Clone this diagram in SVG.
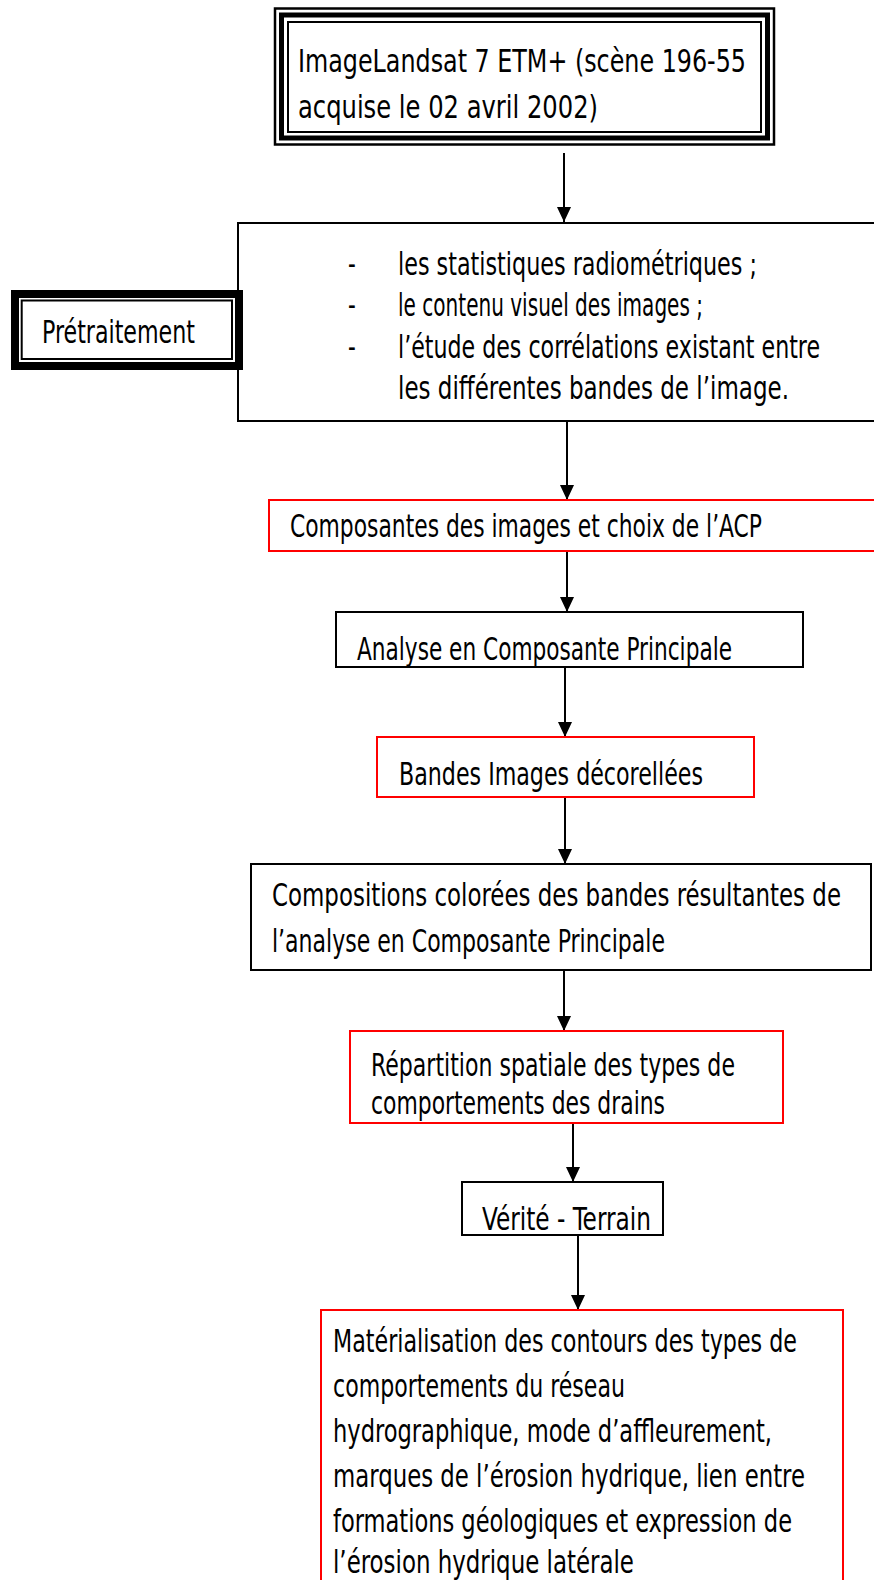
<svg xmlns="http://www.w3.org/2000/svg" width="874" height="1580" viewBox="0 0 874 1580">
<defs>
<style>
text{font-family:"Liberation Sans Narrow","DejaVu Sans Condensed","Liberation Sans",sans-serif;font-size:32px;fill:#000}
.bk{fill:#fff;stroke:#000;stroke-width:2}
.rd{fill:#fff;stroke:#ff0000;stroke-width:2}
.cn{stroke:#000;stroke-width:2;fill:none;marker-end:url(#ah)}
</style>
<marker id="ah" markerWidth="15" markerHeight="14" refX="15" refY="7" orient="auto" markerUnits="userSpaceOnUse">
<path d="M0,0 L15,7 L0,14 z" fill="#000"/>
</marker>
</defs>
<rect width="874" height="1580" fill="#fff"/>

<g id="connectors">
<line class="cn" x1="564" y1="153" x2="564" y2="222"/>
<line class="cn" x1="567" y1="422" x2="567" y2="500"/>
<line class="cn" x1="567" y1="551" x2="567" y2="612"/>
<line class="cn" x1="565" y1="667" x2="565" y2="737"/>
<line class="cn" x1="565" y1="797" x2="565" y2="864"/>
<line class="cn" x1="564" y1="970" x2="564" y2="1031"/>
<line class="cn" x1="573" y1="1123" x2="573" y2="1182"/>
<line class="cn" x1="578" y1="1235" x2="578" y2="1310"/>
</g>

<g id="n-landsat">
<rect x="275" y="8.5" width="499" height="136" fill="#fff" stroke="#000" stroke-width="2.5"/>
<rect x="281.5" y="15" width="486" height="123" fill="none" stroke="#000" stroke-width="5"/>
<rect x="288" y="22" width="473" height="110" fill="none" stroke="#000" stroke-width="2"/>
<text transform="translate(298,72) scale(0.75,1)" textLength="597.3" lengthAdjust="spacingAndGlyphs">ImageLandsat 7 ETM+ (scène 196-55</text>
<text transform="translate(298,118) scale(0.75,1)" textLength="400" lengthAdjust="spacingAndGlyphs">acquise le 02 avril 2002)</text>
</g>

<g id="n-stats">
<rect class="bk" x="238" y="223" width="700" height="198"/>
<text transform="translate(348,275) scale(0.75,1)">-</text>
<text transform="translate(348,316) scale(0.75,1)">-</text>
<text transform="translate(348,358) scale(0.75,1)">-</text>
<text transform="translate(398,275) scale(0.75,1)" textLength="478.7" lengthAdjust="spacingAndGlyphs">les statistiques radiométriques ;</text>
<text transform="translate(398,316) scale(0.75,1)" textLength="406.7" lengthAdjust="spacingAndGlyphs">le contenu visuel des images ;</text>
<text transform="translate(398,358) scale(0.75,1)" textLength="562.7" lengthAdjust="spacingAndGlyphs">l’étude des corrélations existant entre</text>
<text transform="translate(398,399) scale(0.75,1)" textLength="521.3" lengthAdjust="spacingAndGlyphs">les différentes bandes de l’image.</text>
</g>

<g id="n-pretraitement">
<rect x="15" y="294" width="224" height="72" fill="#fff" stroke="#000" stroke-width="8"/>
<rect x="21.7" y="300.5" width="210.3" height="58.5" fill="none" stroke="#000" stroke-width="2"/>
<text transform="translate(42,343) scale(0.75,1)" textLength="204" lengthAdjust="spacingAndGlyphs">Prétraitement</text>
</g>

<g id="n-composantes">
<rect class="rd" x="269" y="500" width="700" height="51"/>
<text transform="translate(290,537) scale(0.75,1)" textLength="629.3" lengthAdjust="spacingAndGlyphs">Composantes des images et choix de l’ACP</text>
</g>

<g id="n-acp">
<rect class="bk" x="336" y="612" width="467" height="55"/>
<text transform="translate(357,660) scale(0.75,1)" textLength="500" lengthAdjust="spacingAndGlyphs">Analyse en Composante Principale</text>
</g>

<g id="n-bandes">
<rect class="rd" x="377" y="737" width="377" height="60"/>
<text transform="translate(399,785) scale(0.75,1)" textLength="405.3" lengthAdjust="spacingAndGlyphs">Bandes Images décorellées</text>
</g>

<g id="n-compositions">
<rect class="bk" x="251" y="864" width="620" height="106"/>
<text transform="translate(272,906) scale(0.75,1)" textLength="758.7" lengthAdjust="spacingAndGlyphs">Compositions colorées des bandes résultantes de</text>
<text transform="translate(272,952) scale(0.75,1)" textLength="524" lengthAdjust="spacingAndGlyphs">l’analyse en Composante Principale</text>
</g>

<g id="n-repartition">
<rect class="rd" x="350" y="1031" width="433" height="92"/>
<text transform="translate(371,1076) scale(0.75,1)" textLength="485.3" lengthAdjust="spacingAndGlyphs">Répartition spatiale des types de</text>
<text transform="translate(371,1114) scale(0.75,1)" textLength="392" lengthAdjust="spacingAndGlyphs">comportements des drains</text>
</g>

<g id="n-verite">
<rect class="bk" x="462" y="1182" width="201" height="53"/>
<text transform="translate(482,1230) scale(0.75,1)" textLength="225.3" lengthAdjust="spacingAndGlyphs">Vérité - Terrain</text>
</g>

<g id="n-materialisation">
<rect class="rd" x="321" y="1310" width="522" height="300"/>
<text transform="translate(333,1352) scale(0.75,1)" textLength="618.7" lengthAdjust="spacingAndGlyphs">Matérialisation des contours des types de</text>
<text transform="translate(333,1397) scale(0.75,1)" textLength="389.3" lengthAdjust="spacingAndGlyphs">comportements du réseau</text>
<text transform="translate(333,1442) scale(0.75,1)" textLength="585.3" lengthAdjust="spacingAndGlyphs">hydrographique, mode d’affleurement,</text>
<text transform="translate(333,1487) scale(0.75,1)" textLength="629.3" lengthAdjust="spacingAndGlyphs">marques de l’érosion hydrique,  lien entre</text>
<text transform="translate(333,1532) scale(0.75,1)" textLength="612" lengthAdjust="spacingAndGlyphs">formations géologiques et expression de</text>
<text transform="translate(333,1573) scale(0.75,1)" textLength="401.3" lengthAdjust="spacingAndGlyphs">l’érosion hydrique latérale</text>
</g>
</svg>
